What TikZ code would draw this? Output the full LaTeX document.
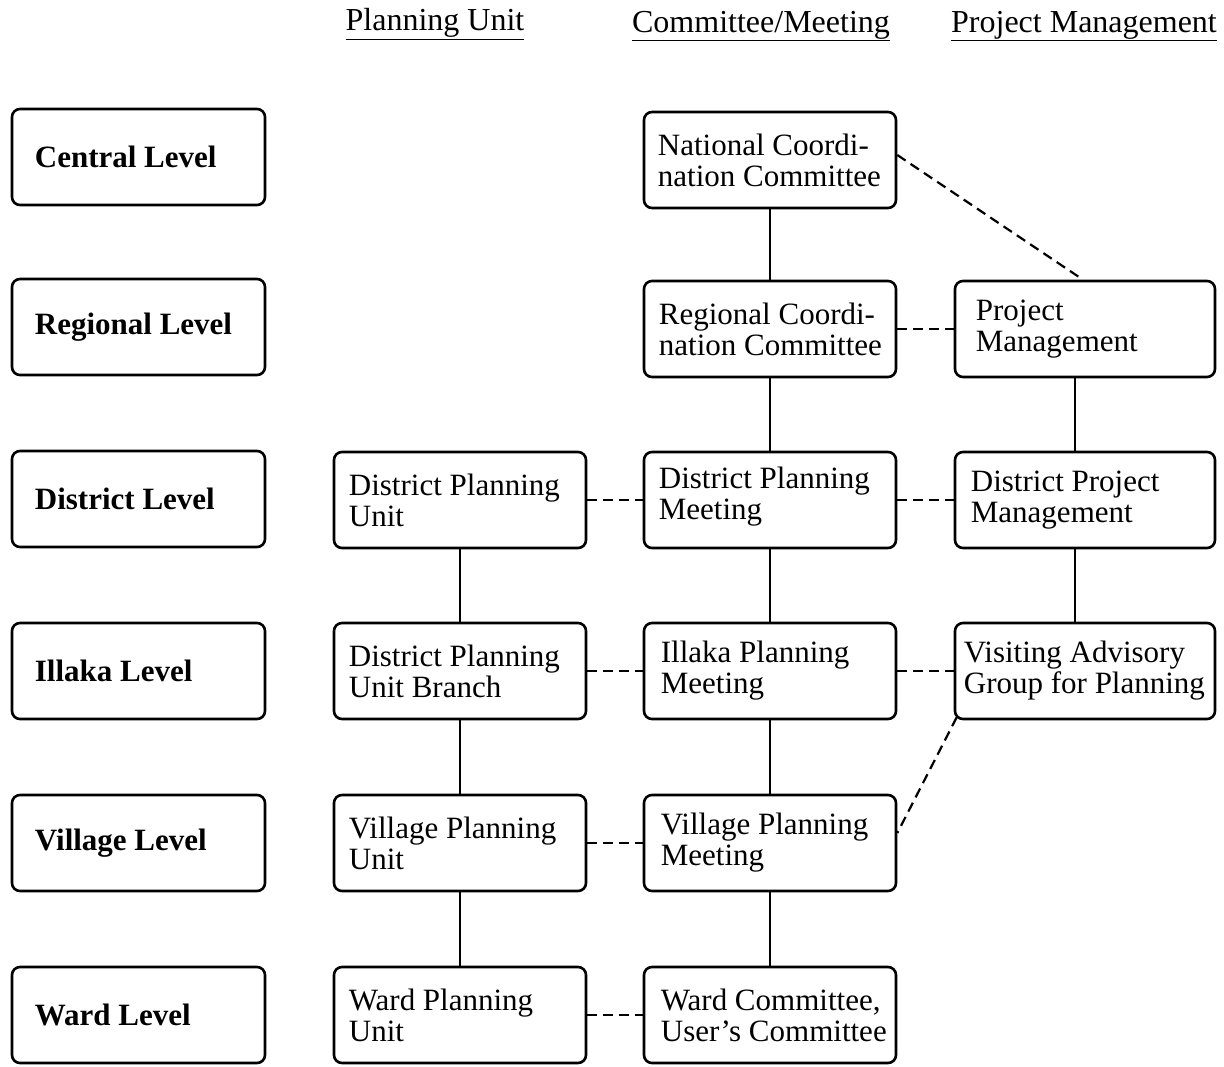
\documentclass[tikz,border=0pt]{standalone}
\usepackage{fontspec}
\setmainfont{Liberation Serif}
\begin{document}
\begin{tikzpicture}[x=1pt,y=-1pt,
  box/.style={draw, line width=2.6pt, rounded corners=8pt, minimum height=96pt, inner sep=0pt},
  lvl/.style={box, minimum width=253pt},
  wbox/.style={box, minimum width=252pt},
  pbox/.style={box, minimum width=260pt},
  txt/.style={anchor=west, align=left, inner sep=0pt, font=\fontsize{31}{31}\selectfont},
  btxt/.style={anchor=west, inner sep=0pt, font=\fontsize{31}{31}\selectfont\bfseries},
  head/.style={inner sep=0pt, font=\fontsize{32}{34}\selectfont},
  solid line/.style={line width=2pt},
  dash line/.style={line width=2.2pt, dash pattern=on 10pt off 6pt}
]
\useasboundingbox (0,0) rectangle (1224,1066);

% headers
\node[head] (h1) at (435,24) {\underline{Planning Unit}};
\node[head] (h2) at (761,26) {\underline{Committee/Meeting}};
\node[head] (h3) at (1084,26) {\underline{Project Management}};

% level column
\node[lvl] (l1) at (138.5,157) {};
\node[lvl] (l2) at (138.5,327) {};
\node[lvl] (l3) at (138.5,499) {};
\node[lvl] (l4) at (138.5,671) {};
\node[lvl] (l5) at (138.5,843) {};
\node[lvl] (l6) at (138.5,1015) {};
\node[btxt] (t1) at ([xshift=24pt]l1.west) {Central Level};
\node[btxt] (t2) at ([xshift=24pt]l2.west) {Regional Level};
\node[btxt] (t3) at ([xshift=24pt]l3.west) {District Level};
\node[btxt] (t4) at ([xshift=24pt]l4.west) {Illaka Level};
\node[btxt] (t5) at ([xshift=24pt]l5.west) {Village Level};
\node[btxt] (t6) at ([xshift=24pt]l6.west) {Ward Level};

% planning unit column
\node[wbox] (dp) at (460,500) {};
\node[wbox] (ip) at (460,671) {};
\node[wbox] (vp) at (460,843) {};
\node[wbox] (wp) at (460,1015) {};
\node[txt] (tdp) at ([xshift=16pt]dp.west) {District Planning\\Unit};
\node[txt] (tip) at ([xshift=16pt]ip.west) {District Planning\\Unit Branch};
\node[txt] (tvp) at ([xshift=16pt]vp.west) {Village Planning\\Unit};
\node[txt] (twp) at ([xshift=16pt]wp.west) {Ward Planning\\Unit};

% committee column
\node[wbox] (nc) at (770,160) {};
\node[wbox] (rc) at (770,329) {};
\node[wbox] (dc) at (770,500) {};
\node[wbox] (ic) at (770,671) {};
\node[wbox] (vc) at (770,843) {};
\node[wbox] (wc) at (770,1015) {};
\node[txt] (tnc) at ([xshift=15pt]nc.west) {National Coordi-\\nation Committee};
\node[txt] (trc) at ([xshift=16pt]rc.west) {Regional Coordi-\\nation Committee};
\node[txt] (tdc) at ([xshift=16pt,yshift=3pt]dc.west) {District Planning\\Meeting};
\node[txt] (tic) at ([xshift=18pt]ic.west) {Illaka Planning\\Meeting};
\node[txt] (tvc) at ([xshift=18pt]vc.west) {Village Planning\\Meeting};
\node[txt] (twc) at ([xshift=18pt]wc.west) {Ward Committee,\\User's Committee};

% project management column
\node[pbox] (pm) at (1085,329) {};
\node[pbox] (dpm) at (1085,500) {};
\node[pbox] (va) at (1085,671) {};
\node[txt] (tpm) at ([xshift=22pt]pm.west) {Project\\Management};
\node[txt] (tdpm) at ([xshift=17pt]dpm.west) {District Project\\Management};
\node[txt] (tva) at ([xshift=10pt]va.west) {Visiting Advisory\\Group for Planning};

% solid connectors
\draw[solid line] (nc.south) -- (rc.north);
\draw[solid line] (rc.south) -- (dc.north);
\draw[solid line] (dc.south) -- (ic.north);
\draw[solid line] (ic.south) -- (vc.north);
\draw[solid line] (vc.south) -- (wc.north);
\draw[solid line] (dp.south) -- (ip.north);
\draw[solid line] (ip.south) -- (vp.north);
\draw[solid line] (vp.south) -- (wp.north);
\draw[solid line] ([xshift=-10pt]pm.south) -- ([xshift=-10pt]dpm.north);
\draw[solid line] ([xshift=-10pt]dpm.south) -- ([xshift=-10pt]va.north);

% dashed connectors
\draw[dash line] ([yshift=5pt]nc.east) -- ([xshift=-2pt]pm.north);
\draw[dash line] (rc.east) -- (pm.west);
\draw[dash line] (dp.east) -- (dc.west);
\draw[dash line] (dc.east) -- (dpm.west);
\draw[dash line] (ip.east) -- (ic.west);
\draw[dash line] (ic.east) -- (va.west);
\draw[dash line] (vp.east) -- (vc.west);
\draw[dash line] (wp.east) -- (wc.west);
\draw[dash line] ([xshift=3pt,yshift=3pt]va.south west) -- ([yshift=10pt]vc.east);
\end{tikzpicture}
\end{document}
